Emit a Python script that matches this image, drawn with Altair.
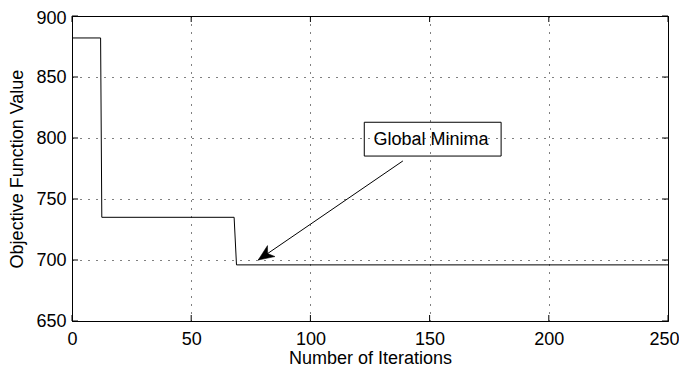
import altair as alt
import pandas as pd

# ---- data ----
iterations = [0, 12, 12.5, 68, 69, 250]
objective = [882, 882, 735, 735, 696, 696]
x_ticks = [0, 50, 100, 150, 200, 250]
y_ticks = [650, 700, 750, 800, 850, 900]

label_text = ["Global Minima"]
label_x = [150.6]
label_y = [798.6]
box_x = [122.6]
box_x2 = [180.0]
box_y = [785.2]
box_y2 = [812.9]
arrow_tail_x = [138.8]
arrow_tail_y = [781.2]
arrow_tip_x = [78.1]
arrow_tip_y = [700.0]

W, H = 596, 305
FONT = "Liberation Sans"
FS = 18

xs = alt.Scale(domain=[0, 250], nice=False, zero=False)
ys = alt.Scale(domain=[650, 900], nice=False, zero=False)

xaxis = alt.Axis(values=x_ticks, title="Number of Iterations", grid=True,
                 gridDash=[1, 7], gridColor="#000", gridOpacity=1, gridWidth=1,
                 domain=False, ticks=False, labelFont=FONT, labelFontSize=FS,
                 labelColor="black", labelPadding=9, labelFlush=False,
                 labelOffset={"condition": {"test": "datum.value === 250", "value": -4}, "value": 0},
                 titleFont=FONT, titleFontSize=FS, titleFontWeight="normal",
                 titleColor="black", titlePadding=1)
yaxis = alt.Axis(values=y_ticks, title="Objective Function Value", grid=True,
                 gridDash=[1, 7], gridColor="#000", gridOpacity=1, gridWidth=1,
                 domain=False, ticks=False, labelFont=FONT, labelFontSize=FS,
                 labelColor="black", labelPadding=6, labelFlush=False,
                 labelOffset={"condition": {"test": "datum.value === 900", "value": 2}, "value": 0},
                 titleFont=FONT, titleFontSize=FS, titleFontWeight="normal",
                 titleColor="black", titlePadding=9)

X = lambda: alt.X("x:Q", scale=xs, axis=xaxis)
Y = lambda: alt.Y("y:Q", scale=ys, axis=yaxis)

line_df = pd.DataFrame({"x": iterations, "y": objective})
line = alt.Chart(line_df).mark_line(color="black", strokeWidth=1).encode(x=X(), y=Y())

xt = pd.DataFrame({"x": x_ticks})
yt = pd.DataFrame({"y": y_ticks})
TL = 6
bottom_ticks = alt.Chart(xt).mark_rule(color="black", strokeWidth=1).encode(
    x=X(), y=alt.value(H), y2=alt.value(H - TL))
top_ticks = alt.Chart(xt).mark_rule(color="black", strokeWidth=1).encode(
    x=X(), y=alt.value(0), y2=alt.value(TL))
left_ticks = alt.Chart(yt).mark_rule(color="black", strokeWidth=1).encode(
    y=Y(), x=alt.value(0), x2=alt.value(TL))
right_ticks = alt.Chart(yt).mark_rule(color="black", strokeWidth=1).encode(
    y=Y(), x=alt.value(W), x2=alt.value(W - TL))

box_df = pd.DataFrame({"x": box_x, "x2": box_x2, "y": box_y, "y2": box_y2})
box = alt.Chart(box_df).mark_rect(fill=None, stroke="black", strokeWidth=1).encode(
    x=X(), x2="x2:Q", y=Y(), y2="y2:Q")

lab_df = pd.DataFrame({"x": label_x, "y": label_y, "t": label_text})
label = alt.Chart(lab_df).mark_text(font=FONT, fontSize=FS, color="black",
                                    align="center", baseline="middle").encode(
    x=X(), y=Y(), text="t:N")

arr_df = pd.DataFrame({"x": arrow_tail_x, "y": arrow_tail_y,
                       "x2": arrow_tip_x, "y2": arrow_tip_y})
arrow_line = alt.Chart(arr_df).mark_rule(color="black", strokeWidth=1).encode(
    x=X(), y=Y(), x2="x2:Q", y2="y2:Q")

tip_df = pd.DataFrame({"x": arrow_tip_x, "y": arrow_tip_y})
head_path = "M0,0 L-0.42,1 L0,0.72 L0.42,1 Z"
arrow_head = alt.Chart(tip_df).mark_point(
    shape=head_path, size=1000, angle=235.7, filled=True,
    fill="black", stroke="black", strokeWidth=0.5, opacity=1).encode(x=X(), y=Y())

chart = alt.layer(line, bottom_ticks, top_ticks, left_ticks, right_ticks,
                  box, label, arrow_line, arrow_head).properties(
    width=W, height=H,
    autosize=alt.AutoSizeParams(type="none"),
    padding={"left": 64, "top": 8, "right": 11, "bottom": 45},
    background="white",
).configure_view(stroke="black", strokeWidth=1)

chart.save("out.html", embed_options={"renderer": "svg", "actions": False})
